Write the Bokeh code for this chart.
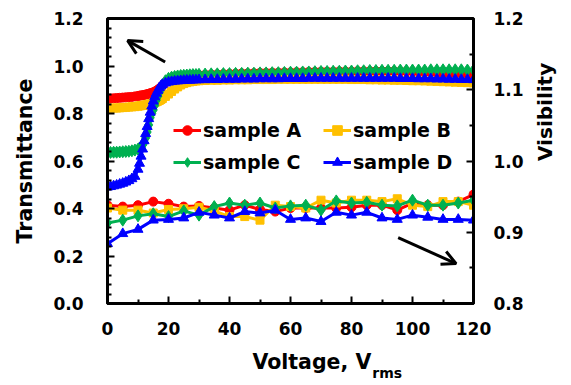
from bokeh.plotting import figure
from bokeh.models import (Range1d, LinearAxis, FixedTicker, Legend, LegendItem,
                          Arrow, OpenHead, PrintfTickFormatter)
from bokeh.embed import file_html
from bokeh.resources import INLINE

# ---------------- data ----------------
# Transmittance (left axis) vs voltage, dense sweep
volt_t = [0, 1, 2, 3, 4, 5, 6, 7, 8, 9,
          10, 10.5, 11, 11.5, 12, 12.5, 13, 13.5, 14, 14.5, 15, 15.5, 16, 16.5, 17, 17.5, 18,
          19, 20, 21, 22, 23, 24, 25, 26, 27, 28, 29, 30,
          32, 34, 36, 38, 40, 42, 44, 46, 48, 50, 52, 54, 56, 58, 60, 62, 64, 66, 68, 70,
          72, 74, 76, 78, 80, 82, 84, 86, 88, 90, 92, 94, 96, 98, 100, 102, 104, 106, 108, 110,
          112, 114, 116, 118, 120]

trans_a = [0.862, 0.863, 0.864, 0.865, 0.866, 0.867, 0.868, 0.869, 0.870, 0.872,
           0.874, 0.875, 0.876, 0.877, 0.878, 0.880, 0.881, 0.883, 0.885, 0.887, 0.889, 0.892, 0.896, 0.900, 0.905, 0.911, 0.917,
           0.930, 0.940, 0.946, 0.950, 0.953, 0.955, 0.957, 0.958, 0.959, 0.960, 0.961, 0.962,
           0.963, 0.964, 0.965, 0.966, 0.967, 0.968, 0.969, 0.969, 0.970, 0.971, 0.971, 0.972, 0.972, 0.973, 0.973,
           0.974, 0.974, 0.975, 0.975, 0.976, 0.976, 0.976, 0.977, 0.977, 0.977, 0.978, 0.978, 0.978, 0.978, 0.978,
           0.978, 0.978, 0.977, 0.977, 0.976, 0.975, 0.974, 0.973, 0.971, 0.969, 0.967, 0.965, 0.962, 0.960, 0.958]
trans_b = [0.822, 0.822, 0.823, 0.823, 0.824, 0.825, 0.826, 0.827, 0.828, 0.829,
           0.831, 0.832, 0.833, 0.834, 0.835, 0.836, 0.837, 0.839, 0.840, 0.842, 0.844, 0.846, 0.849, 0.852, 0.855, 0.859, 0.863,
           0.872, 0.882, 0.893, 0.903, 0.912, 0.920, 0.926, 0.930, 0.933, 0.935, 0.937, 0.938,
           0.939, 0.940, 0.940, 0.941, 0.941, 0.942, 0.942, 0.942, 0.943, 0.943, 0.943, 0.943, 0.944, 0.944, 0.944,
           0.944, 0.944, 0.944, 0.944, 0.944, 0.944, 0.944, 0.944, 0.944, 0.943, 0.943, 0.943, 0.942, 0.942, 0.941,
           0.941, 0.940, 0.940, 0.939, 0.938, 0.938, 0.937, 0.936, 0.935, 0.934, 0.933, 0.932, 0.931, 0.930, 0.929]
trans_c = [0.636, 0.636, 0.637, 0.637, 0.638, 0.639, 0.640, 0.641, 0.643, 0.646,
           0.650, 0.655, 0.660, 0.667, 0.678, 0.697, 0.722, 0.752, 0.782, 0.800, 0.815, 0.835, 0.856, 0.873, 0.890, 0.905, 0.920,
           0.938, 0.948, 0.953, 0.956, 0.958, 0.960, 0.961, 0.962, 0.963, 0.964, 0.964, 0.965,
           0.966, 0.967, 0.967, 0.968, 0.968, 0.969, 0.969, 0.970, 0.970, 0.971, 0.971, 0.972, 0.972, 0.973, 0.974,
           0.974, 0.975, 0.975, 0.976, 0.977, 0.977, 0.978, 0.978, 0.979, 0.979, 0.980, 0.980, 0.981, 0.981, 0.982,
           0.982, 0.982, 0.983, 0.983, 0.983, 0.983, 0.983, 0.984, 0.984, 0.984, 0.984, 0.984, 0.984, 0.983, 0.983]
trans_d = [0.490, 0.492, 0.495, 0.498, 0.502, 0.506, 0.511, 0.517, 0.525, 0.535,
           0.565, 0.590, 0.620, 0.650, 0.685, 0.715, 0.745, 0.778, 0.805, 0.831, 0.852, 0.870, 0.885, 0.897, 0.908, 0.916, 0.922,
           0.928, 0.932, 0.934, 0.936, 0.937, 0.938, 0.939, 0.940, 0.940, 0.941, 0.941, 0.942,
           0.942, 0.943, 0.943, 0.944, 0.944, 0.944, 0.945, 0.945, 0.945, 0.946, 0.946, 0.946, 0.946, 0.947, 0.947,
           0.947, 0.947, 0.948, 0.948, 0.948, 0.948, 0.948, 0.948, 0.948, 0.948, 0.948, 0.948, 0.948, 0.948, 0.948,
           0.948, 0.948, 0.947, 0.947, 0.947, 0.946, 0.946, 0.946, 0.945, 0.945, 0.944, 0.944, 0.943, 0.943, 0.942]

# Visibility (right axis) vs voltage, every 5 V
volt_v = [0, 5, 10, 15, 20, 25, 30, 35, 40, 45, 50, 55, 60, 65, 70, 75, 80, 85, 90, 95, 100, 105, 110, 115, 120]
vis_a = [0.938, 0.936, 0.938, 0.943, 0.940, 0.936, 0.937, 0.934, 0.931, 0.938, 0.932, 0.929, 0.934,
         0.934, 0.934, 0.934, 0.935, 0.938, 0.938, 0.931, 0.941, 0.938, 0.938, 0.943, 0.953]
vis_b = [0.934, 0.931, 0.931, 0.927, 0.932, 0.933, 0.935, 0.930, 0.922, 0.922, 0.917, 0.938, 0.936,
         0.934, 0.945, 0.941, 0.945, 0.945, 0.943, 0.947, 0.938, 0.936, 0.943, 0.943, 0.938]
vis_c = [0.913, 0.917, 0.923, 0.926, 0.922, 0.930, 0.924, 0.936, 0.941, 0.938, 0.941, 0.934, 0.937,
         0.938, 0.931, 0.944, 0.941, 0.942, 0.938, 0.937, 0.945, 0.938, 0.938, 0.941, 0.945]
vis_d = [0.884, 0.898, 0.904, 0.917, 0.918, 0.920, 0.928, 0.924, 0.920, 0.929, 0.927, 0.931, 0.918,
         0.920, 0.915, 0.928, 0.924, 0.928, 0.920, 0.918, 0.924, 0.921, 0.918, 0.918, 0.917]

labels = ["sample A", "sample B", "sample C", "sample D"]
colors = ["#FF0000", "#FFC000", "#00B050", "#0000FF"]
markers = ["circle", "square", "diamond", "triangle"]
msizes = [9, 8, 12, 10]

# tick positions
x_ticks = [0, 20, 40, 60, 80, 100, 120]
x_minor = [10, 30, 50, 70, 90, 110]
t_ticks = [0.0, 0.2, 0.4, 0.6, 0.8, 1.0, 1.2]
t_minor = [0.04, 0.08, 0.12, 0.16, 0.24, 0.28, 0.32, 0.36, 0.44, 0.48, 0.52, 0.56,
           0.64, 0.68, 0.72, 0.76, 0.84, 0.88, 0.92, 0.96, 1.04, 1.08, 1.12, 1.16]
v_ticks = [0.8, 0.9, 1.0, 1.1, 1.2]
v_minor = [0.85, 0.95, 1.05, 1.15]

# arrow annotations (voltage, transmittance units)
arrow_up = (18.9, 1.017, 6.6, 1.107)
arrow_down = (95.3, 0.277, 114.3, 0.168)

# x-axis title pieces: (centre position in volts, text)
xtitle_main = (67.0, "Voltage, V")
xtitle_sub = (91.7, "rms")

FONT = "DejaVu Sans"

p = figure(width=571, height=385, output_backend="svg", toolbar_location=None,
           x_range=Range1d(0, 120), y_range=Range1d(0, 1.2),
           min_border_left=107, min_border_right=95, min_border_top=18, min_border_bottom=82)
p.extra_y_ranges = {"vis": Range1d(0.8, 1.2)}
p.xgrid.visible = False
p.ygrid.visible = False
p.outline_line_color = "black"
p.outline_line_width = 3
p.outline_line_alpha = 1
p.background_fill_color = "white"
p.border_fill_color = "white"


def style_axis(ax, standoff):
    ax.axis_line_width = 3
    ax.axis_line_color = "black"
    ax.major_tick_in = 7
    ax.major_tick_out = 0
    ax.minor_tick_in = 4
    ax.minor_tick_out = 0
    ax.major_tick_line_width = 2
    ax.minor_tick_line_width = 2
    ax.major_tick_line_color = "black"
    ax.minor_tick_line_color = "black"
    ax.major_label_text_font = FONT
    ax.major_label_text_font_style = "bold"
    ax.major_label_text_font_size = "17px"
    ax.major_label_text_color = "black"
    ax.major_label_standoff = standoff
    ax.axis_label_text_font = FONT
    ax.axis_label_text_font_style = "bold"
    ax.axis_label_text_color = "black"


def bare_axis(ax):
    ax.axis_line_color = None
    ax.major_tick_line_color = None
    ax.minor_tick_line_color = None
    ax.major_tick_in = 0
    ax.major_tick_out = 0
    ax.minor_tick_in = 0
    ax.minor_tick_out = 0
    return ax


xa = p.xaxis[0]
xa.ticker = FixedTicker(ticks=x_ticks, minor_ticks=x_minor)
style_axis(xa, 18)

ya = p.yaxis[0]
ya.ticker = FixedTicker(ticks=t_ticks, minor_ticks=t_minor)
ya.formatter = PrintfTickFormatter(format="%.1f")
style_axis(ya, 24)
ya.axis_label = "Transmittance"
ya.axis_label_text_font_size = "20.5px"
ya.axis_label_standoff = 13

ra = LinearAxis(y_range_name="vis", ticker=FixedTicker(ticks=v_ticks, minor_ticks=v_minor),
                formatter=PrintfTickFormatter(format="%.1f"))
style_axis(ra, 20)
ra.axis_label = "Visibility"
ra.axis_label_text_font_size = "20px"
ra.axis_label_standoff = 18
if "axis_label_orientation" in ra.properties():
    ra.axis_label_orientation = 1.5708
p.add_layout(ra, "right")


def title_axis(pos, txt, size, standoff):
    ax = bare_axis(LinearAxis(ticker=FixedTicker(ticks=[pos], minor_ticks=[]),
                              major_label_overrides={pos: txt}))
    ax.major_label_text_font = FONT
    ax.major_label_text_font_style = "bold"
    ax.major_label_text_font_size = size
    ax.major_label_text_color = "black"
    ax.major_label_standoff = standoff
    return ax


p.add_layout(title_axis(xtitle_main[0], xtitle_main[1], "20.5px", 12), "below")
p.add_layout(title_axis(xtitle_sub[0], xtitle_sub[1], "14px", -12), "below")

# transmittance curves (dense)
for ys, c, m, s in zip([trans_a, trans_b, trans_c, trans_d], colors, markers, msizes):
    p.line(volt_t, ys, line_color=c, line_width=3)
    p.scatter(volt_t, ys, marker=m, size=s, fill_color=c, line_color=c)

# visibility curves
leg_items = []
for ys, c, m, s, lab in zip([vis_a, vis_b, vis_c, vis_d], colors, markers, msizes, labels):
    r1 = p.line(volt_v, ys, line_color=c, line_width=3, y_range_name="vis")
    r2 = p.scatter(volt_v, ys, marker=m, size=s, fill_color=c, line_color=c, y_range_name="vis")
    leg_items.append(LegendItem(label=lab, renderers=[r1, r2]))


def make_legend(items, loc):
    lg = Legend(items=items, location=loc, orientation="vertical")
    lg.padding = 0
    lg.margin = 0
    lg.spacing = 8
    lg.glyph_width = 28
    lg.glyph_height = 24
    lg.label_height = 24
    lg.label_standoff = 2
    lg.label_text_font = FONT
    lg.label_text_font_style = "bold"
    lg.label_text_font_size = "19px"
    lg.label_text_color = "black"
    lg.border_line_alpha = 0
    lg.background_fill_alpha = 0
    return lg


p.add_layout(make_legend([leg_items[0], leg_items[2]], (66, 129)))
p.add_layout(make_legend([leg_items[1], leg_items[3]], (216, 129)))

for (x0, y0, x1, y1) in [arrow_up, arrow_down]:
    p.add_layout(Arrow(x_start=x0, y_start=y0, x_end=x1, y_end=y1, line_width=3, line_color="black",
                       end=OpenHead(size=14, line_width=3, line_color="black")))

open("out.html", "w").write(file_html(p, INLINE))
